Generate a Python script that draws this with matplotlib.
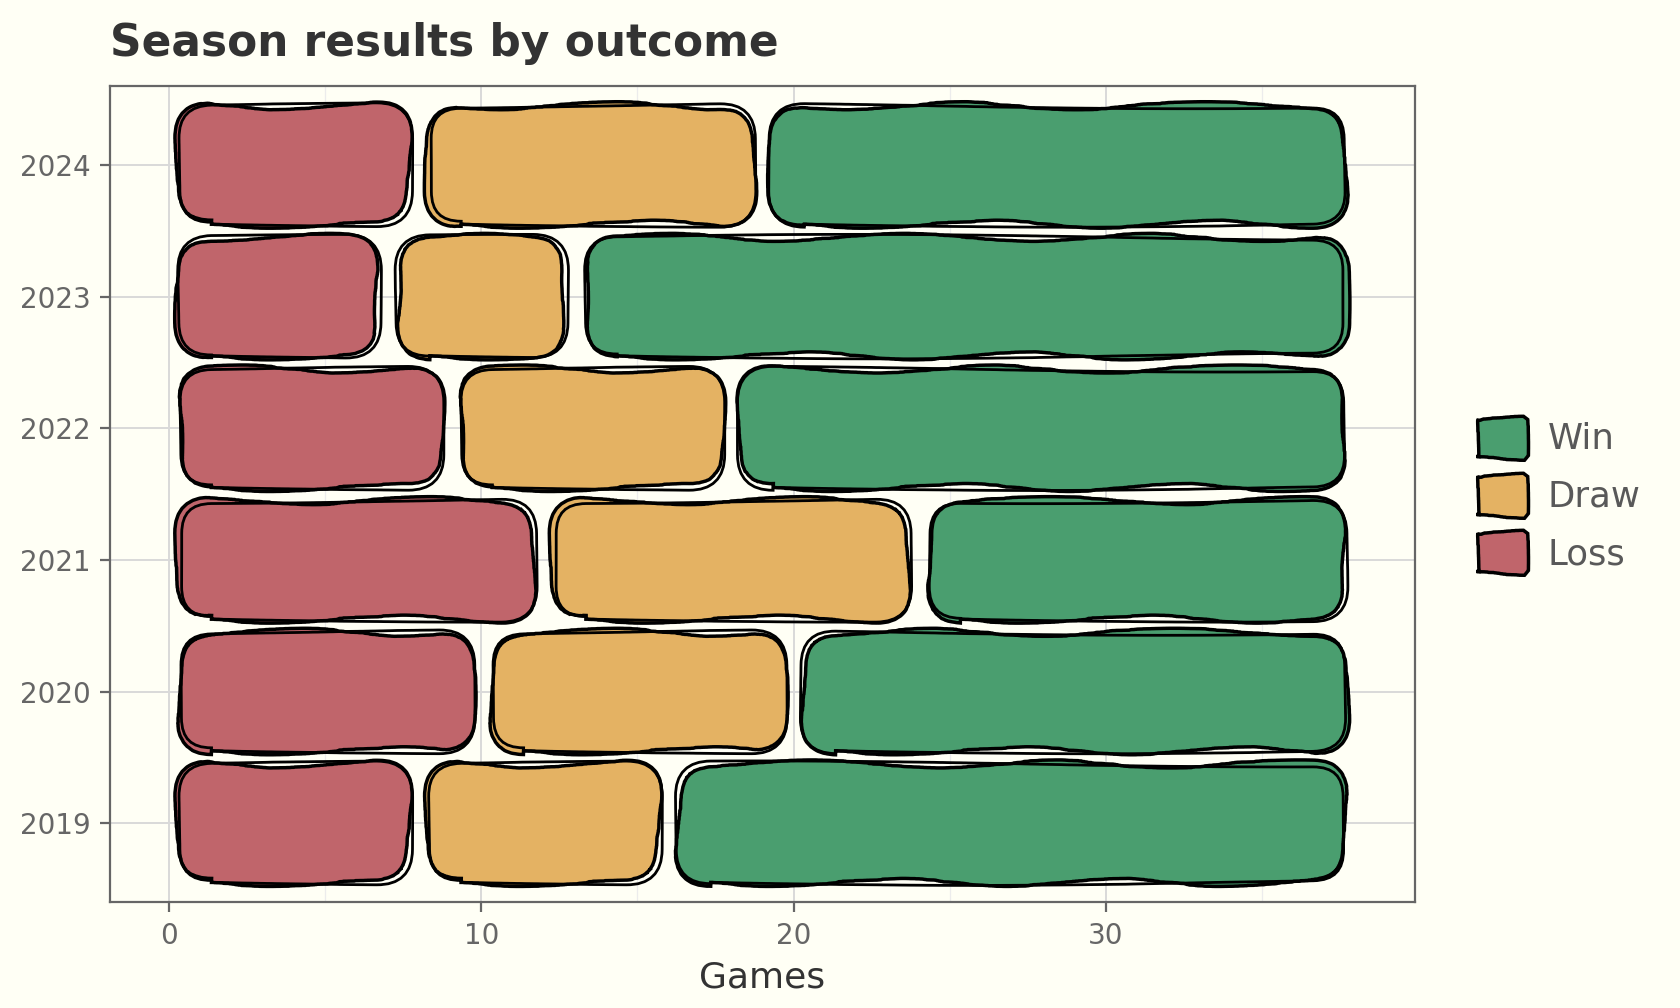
import matplotlib
matplotlib.use('Agg')
import matplotlib.pyplot as plt
from matplotlib.patches import FancyBboxPatch
from matplotlib.ticker import MultipleLocator
import numpy as np

years = ['2019', '2020', '2021', '2022', '2023', '2024']
losses = [8, 10, 12, 9, 7, 8]
draws = [8, 10, 12, 9, 6, 11]
wins = [22, 18, 14, 20, 25, 19]
outcomes = ['Loss', 'Draw', 'Win']
colors = {'Loss': '#c0656b', 'Draw': '#e4b263', 'Win': '#4a9e6f'}
legend_order = ['Win', 'Draw', 'Loss']

BG = '#fffff5'
plt.rcParams['font.family'] = ['DejaVu Sans']

fig = plt.figure(figsize=(8.4, 5.04), dpi=200, facecolor=BG)
ax = fig.add_axes([0.0655, 0.105, 0.842 - 0.0655, 0.9147 - 0.105])
ax.set_facecolor(BG)

ypos = np.arange(len(years))
left = np.zeros(len(years))
gap = 0.3
handles = {}
for name, vals in zip(outcomes, [losses, draws, wins]):
    col = colors[name]
    bars = ax.barh(ypos, vals, left=left, height=0.9, color=col)
    for i, b in enumerate(bars):
        x0, y0, w, h = b.get_x(), b.get_y(), b.get_width(), b.get_height()
        p = FancyBboxPatch((x0 + gap, y0), w - 2 * gap, h,
                           boxstyle='round,pad=0,rounding_size=1.05',
                           mutation_aspect=0.237, fc=col, ec='black',
                           lw=1.25, zorder=3)
        p.set_sketch_params(scale=4, length=600, randomness=12)
        ax.add_patch(p)
        q = FancyBboxPatch((x0 + gap, y0), w - 2 * gap, h,
                           boxstyle='round,pad=0,rounding_size=1.05',
                           mutation_aspect=0.237, fc='none', ec='black',
                           lw=1.0, zorder=3)
        q.set_sketch_params(scale=3, length=1300, randomness=3)
        ax.add_patch(q)
        if i == 0:
            handles[name] = p
        b.remove()
    left += np.array(vals)

ax.set_xlim(-1.9, 39.9)
ax.set_ylim(-0.6, 5.6)
ax.set_yticks(ypos)
ax.set_yticklabels(years)
ax.xaxis.set_major_locator(MultipleLocator(10))
ax.xaxis.set_minor_locator(MultipleLocator(5))
ax.grid(which='major', color='#d9d9d9', lw=0.7, zorder=0)
ax.grid(which='minor', axis='x', color='#ececec', lw=0.45, zorder=0)
ax.set_axisbelow(True)
for s in ax.spines.values():
    s.set_color('#666666')
    s.set_linewidth(0.8)
ax.tick_params(which='major', colors='#666666', labelsize=10, length=3.5, width=0.8)
ax.tick_params(which='minor', length=0)
ax.set_xlabel('Games', fontsize=13, color='#333333', labelpad=4)

fig.text(110 / 1680, 0.944, 'Season results by outcome', fontsize=15.8,
         fontweight='bold', color='#333333', va='baseline', ha='left')

fig.legend(handles=[handles[n] for n in legend_order], labels=legend_order,
           loc='center left', bbox_to_anchor=(1476 / 1680, 0.509), frameon=False,
           fontsize=12.8, labelcolor='#595959', handlelength=1.35, handleheight=1.26,
           labelspacing=0.55, handletextpad=0.67, borderpad=0, borderaxespad=0)

fig.savefig('out.png', dpi=200, facecolor=BG)
